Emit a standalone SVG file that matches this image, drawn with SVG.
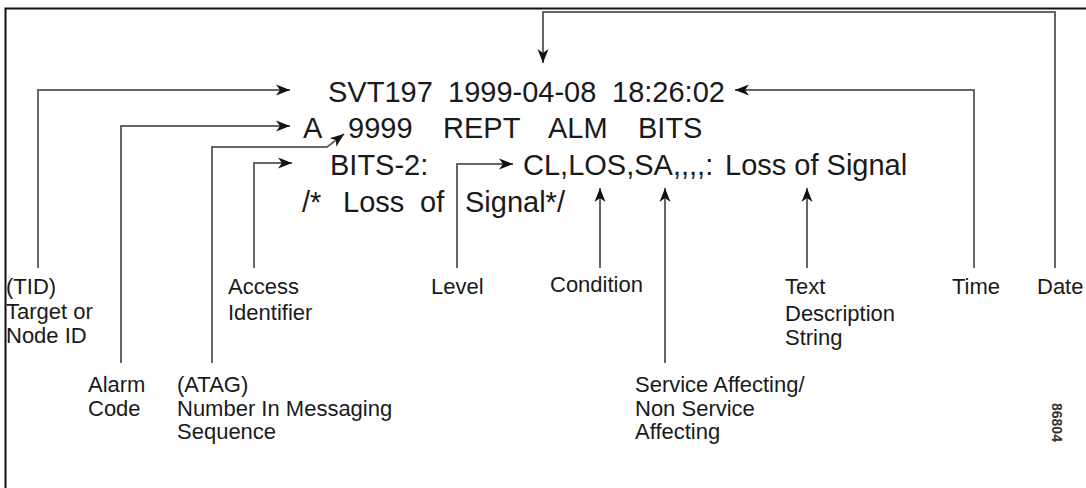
<svg xmlns="http://www.w3.org/2000/svg" width="1086" height="488" viewBox="0 0 1086 488">
<style>
.main{font-family:"Liberation Sans",Arial,sans-serif;font-size:29px;fill:#1a1a1a}
.lbl{font-family:"Liberation Sans",Arial,sans-serif;font-size:22px;fill:#1a1a1a}
.tag{font-family:"Liberation Sans",Arial,sans-serif;font-size:14px;font-weight:bold;fill:#333}
.conn{fill:none;stroke:#666;stroke-width:2;marker-end:url(#ah)}
</style>
<defs>
<marker id="ah" markerUnits="userSpaceOnUse" viewBox="-14 -7 15 14" refX="0" refY="0" markerWidth="15" markerHeight="14" orient="auto">
<path d="M0,0 L-14,-5.5 L-10,0 L-14,5.5 Z" fill="#111"/>
</marker>
</defs>
<rect x="5.5" y="8.5" width="1100" height="500" fill="#fff" stroke="#111" stroke-width="2"/>
<g id="message">
<text class="main" x="328" y="102">SVT197</text>
<text class="main" x="448" y="102">1999-04-08</text>
<text class="main" x="612" y="102">18:26:02</text>
<text class="main" x="303" y="138">A</text>
<text class="main" x="348" y="138">9999</text>
<text class="main" x="443" y="138">REPT</text>
<text class="main" x="548" y="138">ALM</text>
<text class="main" x="638" y="138">BITS</text>
<text class="main" x="330" y="175">BITS-2:</text>
<text class="main" x="523" y="175">CL,LOS,SA,,,,:</text>
<text class="main" x="725" y="175">Loss of Signal</text>
<text class="main" x="302" y="212">/*</text>
<text class="main" x="343" y="212">Loss</text>
<text class="main" x="420" y="212">of</text>
<text class="main" x="465" y="212">Signal*/</text>
</g>
<g id="connectors">
<path class="conn" d="M38,268 V90 H290"/>
<path class="conn" d="M121,363 V126 H290"/>
<path class="conn" d="M212,363 V147 H327 L344,134"/>
<path class="conn" d="M254,268 V163 H292"/>
<path class="conn" d="M457,268 V164 H513"/>
<path class="conn" d="M600,268 V188"/>
<path class="conn" d="M665,363 V188"/>
<path class="conn" d="M807,268 V188"/>
<path class="conn" d="M974,268 V90 H735"/>
<path class="conn" d="M1055,268 V12 H543 V63"/>
</g>
<g id="tid"><text class="lbl" x="6" y="294">(TID)</text><text class="lbl" x="6" y="319">Target or</text><text class="lbl" x="6" y="343">Node ID</text></g>
<g id="alarm"><text class="lbl" x="88" y="392">Alarm</text><text class="lbl" x="88" y="416">Code</text></g>
<g id="atag"><text class="lbl" x="177" y="392">(ATAG)</text><text class="lbl" x="177" y="416">Number In Messaging</text><text class="lbl" x="177" y="439">Sequence</text></g>
<g id="access"><text class="lbl" x="228" y="294">Access</text><text class="lbl" x="228" y="320">Identifier</text></g>
<g id="level"><text class="lbl" x="431" y="294">Level</text></g>
<g id="condition"><text class="lbl" x="550" y="292">Condition</text></g>
<g id="service"><text class="lbl" x="635" y="392">Service Affecting/</text><text class="lbl" x="635" y="416">Non Service</text><text class="lbl" x="635" y="439">Affecting</text></g>
<g id="textdesc"><text class="lbl" x="785" y="294">Text</text><text class="lbl" x="785" y="321">Description</text><text class="lbl" x="785" y="345">String</text></g>
<g id="time"><text class="lbl" x="952" y="294">Time</text></g>
<g id="date"><text class="lbl" x="1037" y="294">Date</text></g>
<text class="tag" transform="translate(1052,403) rotate(90)">86804</text>
</svg>
